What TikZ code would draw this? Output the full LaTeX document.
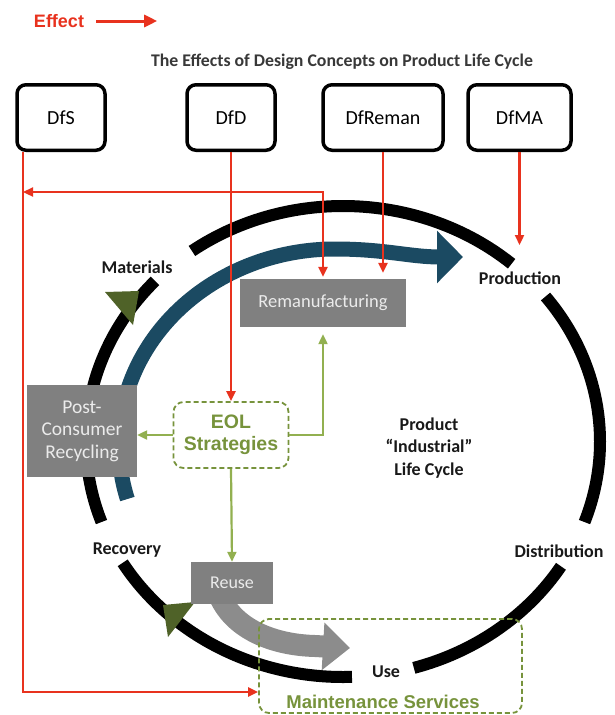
\documentclass[tikz,border=0pt]{standalone}
\usepackage{fontspec}
\setmainfont{Carlito}
\newfontfamily\arialfont{Liberation Sans}
\usetikzlibrary{arrows.meta}

\definecolor{effectred}{HTML}{E8321E}
\definecolor{eolgreen}{HTML}{77933C}
\definecolor{lightgreen}{HTML}{92B050}
\definecolor{darkolive}{HTML}{4F6228}
\definecolor{cycleblue}{HTML}{1B4A62}
\definecolor{boxgray}{HTML}{808080}
\definecolor{flowgray}{HTML}{8C8C8C}
\definecolor{titlegray}{HTML}{383838}

\begin{document}
\begin{tikzpicture}[
  x=1pt, y=1pt,
  dbox/.style={draw, line width=3.5pt, rounded corners=9pt, minimum height=65.5pt, inner sep=0pt, font=\fontsize{20}{24}\selectfont},
  gbox/.style={fill=boxgray, text=white!92!black, inner sep=0pt, align=center, font=\fontsize{19.5}{22.5}\selectfont},
  dashbox/.style={draw=eolgreen, line width=1.8pt, dash pattern=on 5pt off 3pt, rounded corners=10pt, inner sep=0pt},
  stage/.style={text=black!90, font=\bfseries\fontsize{18}{22.5}\selectfont},
  effect/.style={draw=effectred, line width=2.3pt},
  eolarr/.style={draw=lightgreen, line width=2.2pt, ->},
  ring/.style={line width=12pt},
  >={Triangle[length=10pt,width=9pt]}
]
  \useasboundingbox (0,0) rectangle (615,-715);

  % legend and title
  \node[text=effectred, font=\arialfont\bfseries\fontsize{18}{20}\selectfont, inner sep=0pt] (eff) at (59,-21) {Effect};
  \draw[effect, line width=3pt, -{Triangle[length=13pt,width=12pt]}] ([xshift=12pt]eff.east) -- ([xshift=73pt]eff.east);
  \node[text=titlegray, font=\bfseries\fontsize{17.8}{20}\selectfont] (title) at (342,-62) {The Effects of Design Concepts on Product Life Cycle};

  % design concepts
  \node[dbox, minimum width=88pt] (dfs) at (61,-117.5) {DfS};
  \node[dbox, minimum width=88pt] (dfd) at (231,-117.5) {DfD};
  \node[dbox, minimum width=120pt] (dfreman) at (383,-117.5) {DfReman};
  \node[dbox, minimum width=103pt] (dfma) at (519.5,-117.5) {DfMA};

  % life cycle ring
  \coordinate (ctr) at (343,-441.5);
  \foreach \a/\b in {137/200, 211/272, 286/328, 340/398, 49/126}
    \draw[ring] (ctr) ++(\a:257 and 235.5) arc[start angle=\a, end angle=\b, x radius=257, y radius=235.5];

  % material flow
  \coordinate (bctr) at (335,-445);
  \draw[cycleblue, line width=15pt, -{Triangle[length=26pt,width=51pt]}]
    (bctr) ++(196:216 and 196) arc[start angle=196, end angle=90, x radius=216, y radius=196]
    .. controls (385,-249) and (410,-257) .. (440,-257) -- (463,-257);
  \draw[flowgray, line width=22pt, -{Triangle[length=27pt,width=46pt]}]
    (218,-592) .. controls (232,-630) and (275,-645) .. (315,-646) -- (350,-648);

  \fill[darkolive] (105,-292) -- (139,-291) -- (133,-325) -- cycle;
  \fill[darkolive] (195,-602) -- (163,-605) -- (168,-637) -- cycle;

  % stages
  \node[stage] (materials) at (137,-267) {Materials};
  \node[stage] (production) at (520,-278) {Production};
  \node[stage] (distribution) at (559,-551) {Distribution};
  \node[stage] (use) at (386,-672) {Use};
  \node[stage] (recovery) at (127,-550) {Recovery};
  \node[stage, align=center] (plc) at (429,-448) {Product\\“Industrial”\\Life Cycle};

  % EOL options
  \node[gbox, minimum width=166pt, minimum height=48pt, font=\fontsize{18.5}{20}\selectfont] (reman) at (323,-303) {Remanufacturing};
  \node[gbox, minimum width=110pt, minimum height=92pt] (pcr) at (82,-431) {Post-\\Consumer\\Recycling};
  \node[gbox, minimum width=82pt, minimum height=42pt, font=\fontsize{18}{20}\selectfont] (reuse) at (232,-583) {Reuse};
  \node[dashbox, minimum width=115pt, minimum height=66pt, text=eolgreen, align=center, font=\arialfont\bfseries\fontsize{19.5}{21.5}\selectfont] (eol) at (231,-435) {EOL\\Strategies};
  \node[dashbox, minimum width=263pt, minimum height=94pt] (maint) at (390.5,-666) {};
  \node[text=eolgreen, font=\arialfont\bfseries\fontsize{18.5}{20}\selectfont] (mtext) at (383,-702) {Maintenance Services};

  \draw[eolarr] (eol.west) -- (eol.west -| pcr.east);
  \draw[eolarr, shorten >=7pt] (eol.east) -| (reman.south);
  \draw[eolarr] (eol.south) -- (reuse.north);

  % effects
  \coordinate (sline) at (23,-192);
  \coordinate (prodin) at (519.5,-245);
  \draw[effect, ->] ([xshift=8pt]dfs.south west) |- ([yshift=-26pt]maint.west);
  \draw[effect, <->, shorten >=2pt] (sline) -| (reman.north);
  \draw[effect, ->] (dfd.south) -- (eol.north);
  \draw[effect, ->, shorten >=6pt] (dfreman.south) -- (dfreman.south |- reman.north);
  \draw[effect, ->] (dfma.south) -- (prodin);
\end{tikzpicture}
\end{document}
